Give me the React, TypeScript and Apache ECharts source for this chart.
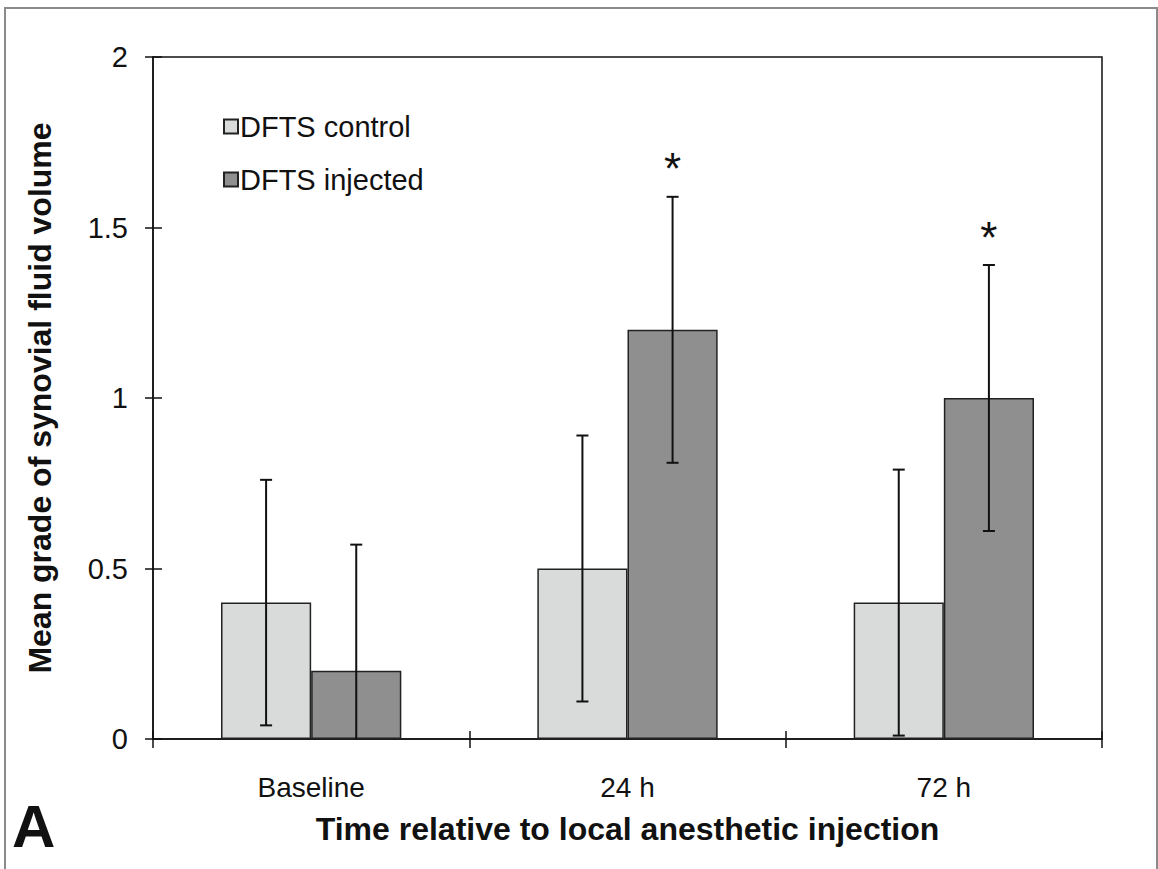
import React, { useEffect, useRef } from "react";
import * as echarts from "echarts";

const categories = ["Baseline", "24 h", "72 h"];
const controlMeans = [0.4, 0.5, 0.4];
const injectedMeans = [0.2, 1.2, 1.0];
const controlErr = [0.36, 0.39, 0.39];
const injectedErr = [0.37, 0.39, 0.39];
const injectedSignificant = [false, true, true];
const yTicks = [0, 0.5, 1, 1.5, 2];

const GAP = 0.43;
const FONT = "'Liberation Sans', Arial, sans-serif";

export default function App() {
  const ref = useRef<HTMLDivElement>(null);
  useEffect(() => {
    if (!ref.current) return;
    const chart = echarts.init(ref.current, undefined, { renderer: "svg" });

    const errData = categories.map((_, i) => [
      i,
      controlMeans[i],
      controlErr[i],
      injectedMeans[i],
      injectedErr[i],
      injectedSignificant[i] ? 1 : 0,
    ]);

    const renderErr = (params: any, api: any) => {
      const idx = api.value(0);
      const band = api.size([1, 0])[0];
      const barW = (band * (1 - GAP)) / 2;
      const center = api.coord([idx, 0]);
      const base = center[1];
      const children: any[] = [];
      const pairs = [
        [api.value(1), api.value(2), center[0] - barW / 2, false],
        [api.value(3), api.value(4), center[0] + barW / 2, api.value(5) === 1],
      ];
      pairs.forEach(([m, e, x, sig]: any) => {
        const hiY = api.coord([idx, m + e])[1];
        const loVal = m - e;
        const loY = loVal < 0 ? base : api.coord([idx, loVal])[1];
        const style = { stroke: "#111", lineWidth: 2 };
        children.push({ type: "line", shape: { x1: x, y1: hiY, x2: x, y2: loY }, style });
        children.push({ type: "line", shape: { x1: x - 6, y1: hiY, x2: x + 6, y2: hiY }, style });
        if (loVal >= 0) {
          children.push({ type: "line", shape: { x1: x - 6, y1: loY, x2: x + 6, y2: loY }, style });
        }
        if (sig) {
          children.push({
            type: "text",
            x,
            y: hiY - 28,
            style: {
              text: "*",
              fontSize: 44,
              fontFamily: FONT,
              fill: "#111",
              align: "center",
              verticalAlign: "middle",
            },
          });
        }
      });
      return { type: "group", children };
    };

    const barBase = {
      type: "bar",
      barGap: "0%",
      barCategoryGap: GAP * 100 + "%",
      xAxisIndex: 0,
      yAxisIndex: 0,
    };

    chart.setOption({
      animation: false,
      backgroundColor: "#fff",
      textStyle: { fontFamily: FONT },
      grid: {
        left: 153,
        right: 56,
        top: 57,
        bottom: 130,
        show: true,
        borderColor: "#111",
        borderWidth: 1.5,
        backgroundColor: "transparent",
      },
      legend: {
        orient: "vertical",
        left: 223,
        top: 112,
        padding: 0,
        itemWidth: 14,
        itemHeight: 14,
        itemGap: 24,
        icon: "rect",
        textStyle: { fontSize: 29, color: "#111", fontFamily: FONT, padding: [0, 0, 0, -3] },
        data: ["DFTS control", "DFTS injected"],
      },
      xAxis: [
        {
          type: "category",
          data: categories,
          boundaryGap: true,
          axisLine: { lineStyle: { color: "#111", width: 1.5 } },
          axisTick: { show: true, length: 9, lineStyle: { color: "#111", width: 1.5 } },
          axisLabel: { fontSize: 28, color: "#111", margin: 34, fontFamily: FONT },
          name: "Time relative to local anesthetic injection",
          nameLocation: "middle",
          nameGap: 74,
          nameTextStyle: { fontSize: 32, fontWeight: "bold", color: "#111", fontFamily: FONT },
        },
        {
          type: "category",
          data: categories,
          position: "bottom",
          boundaryGap: true,
          axisLine: { show: false },
          axisTick: { show: true, inside: true, length: 8, lineStyle: { color: "#111", width: 1.5 } },
          axisLabel: { show: false },
        },
      ],
      yAxis: [
        {
          type: "value",
          min: 0,
          max: 2,
          interval: 0.5,
          splitLine: { show: false },
          axisLine: { show: true, lineStyle: { color: "#111", width: 1.5 } },
          axisTick: { show: true, length: 8, lineStyle: { color: "#111", width: 1.5 } },
          axisLabel: {
            fontSize: 29,
            color: "#111",
            margin: 25,
            fontFamily: FONT,
            formatter: (v: number) => (yTicks.includes(v) ? String(v) : ""),
          },
          name: "Mean grade of synovial fluid volume",
          nameLocation: "middle",
          nameGap: 97,
          nameTextStyle: { fontSize: 32, fontWeight: "bold", color: "#111", fontFamily: FONT },
        },
        {
          type: "value",
          min: 0,
          max: 2,
          interval: 0.5,
          position: "left",
          splitLine: { show: false },
          axisLine: { show: false },
          axisTick: { show: true, inside: true, length: 9, lineStyle: { color: "#111", width: 1.5 } },
          axisLabel: { show: false },
        },
      ],
      series: [
        {
          ...barBase,
          name: "DFTS control",
          data: controlMeans,
          itemStyle: { color: "#d9dada", borderColor: "#222", borderWidth: 1.5 },
        },
        {
          ...barBase,
          name: "DFTS injected",
          data: injectedMeans,
          itemStyle: { color: "#8f8f8f", borderColor: "#222", borderWidth: 1.5 },
        },
        {
          type: "custom",
          name: "errors",
          xAxisIndex: 0,
          yAxisIndex: 0,
          data: errData,
          renderItem: renderErr,
          z: 10,
          clip: false,
        },
      ],
      graphic: [
        {
          type: "rect",
          shape: { x: 5, y: 8, width: 1152, height: 900 },
          style: { fill: "none", stroke: "#8a8a8a", lineWidth: 2 },
          silent: true,
          z: -1,
        },
        {
          type: "text",
          left: 12,
          top: 796,
          style: { text: "A", fontSize: 60, fontWeight: "bold", fill: "#111", fontFamily: FONT },
        },
      ],
    });
    return () => chart.dispose();
  }, []);
  return (
    <div
      ref={ref}
      style={{ position: "fixed", left: 0, top: 0, width: 1158, height: 869, background: "#fff" }}
    />
  );
}
